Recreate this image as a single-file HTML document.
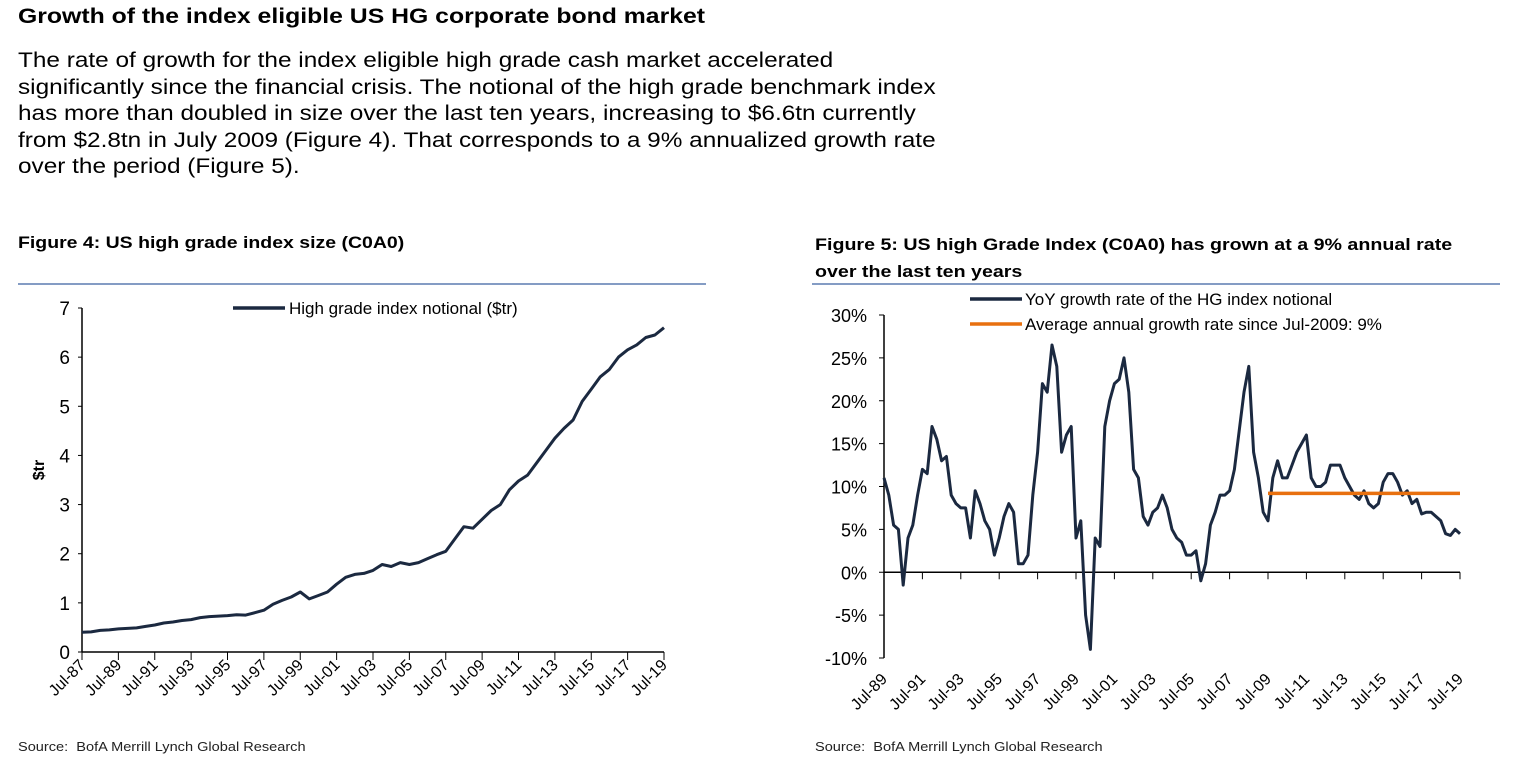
<!DOCTYPE html>
<html><head><meta charset="utf-8"><style>
body{margin:0;width:1523px;height:777px;background:#fff;font-family:"Liberation Sans",sans-serif;color:#000;overflow:hidden;position:relative}
.t{position:absolute;left:18px;white-space:nowrap;transform-origin:0 0}
</style></head><body>
<div class="t" style="top:5px;font-size:21px;font-weight:bold;transform:scaleX(1.18);">Growth of the index eligible US HG corporate bond market</div>
<div class="t" style="top:48px;font-size:21px;line-height:26.5px;transform:scaleX(1.16);">The rate of growth for the index eligible high grade cash market accelerated<br>significantly since the financial crisis. The notional of the high grade benchmark index<br>has more than doubled in size over the last ten years, increasing to $6.6tn currently<br>from $2.8tn in July 2009 (Figure 4). That corresponds to a 9% annualized growth rate<br>over the period (Figure 5).</div>
<div class="t" style="top:234px;font-size:16.5px;font-weight:bold;transform:scaleX(1.18);">Figure 4: US high grade index size (C0A0)</div>
<div class="t" style="left:815px;top:232px;font-size:16.5px;font-weight:bold;line-height:27px;transform:scaleX(1.19);">Figure 5: US high Grade Index (C0A0) has grown at a 9% annual rate<br>over the last ten years</div>
<div class="t" style="top:739px;font-size:13px;color:#222;transform:scaleX(1.12);">Source:&nbsp; BofA Merrill Lynch Global Research</div>
<div class="t" style="left:815px;top:739px;font-size:13px;color:#222;transform:scaleX(1.12);">Source:&nbsp; BofA Merrill Lynch Global Research</div>
<svg id="svg" width="1523" height="777" style="position:absolute;left:0;top:0"></svg>
<script>
// Figure 4 data (semiannual, Jul-87 .. Jul-19)
const f4Start = 1987.5;
const f4Values = [0.40,0.41,0.44,0.45,0.47,0.48,0.49,0.52,0.55,0.59,0.61,0.64,0.66,0.70,0.72,0.73,0.74,0.76,0.75,0.80,0.85,0.97,1.05,1.12,1.22,1.08,1.15,1.22,1.38,1.52,1.58,1.60,1.66,1.78,1.74,1.82,1.78,1.82,1.90,1.98,2.05,2.30,2.55,2.52,2.70,2.88,3.00,3.30,3.48,3.60,3.85,4.10,4.35,4.55,4.72,5.10,5.35,5.60,5.75,6.00,6.15,6.25,6.40,6.45,6.60];
const f4YTicks = [0,1,2,3,4,5,6,7];
const f4XTicks = ["Jul-87","Jul-89","Jul-91","Jul-93","Jul-95","Jul-97","Jul-99","Jul-01","Jul-03","Jul-05","Jul-07","Jul-09","Jul-11","Jul-13","Jul-15","Jul-17","Jul-19"];
// Figure 5 data (quarterly, Jul-89 .. Jul-19), percent
const f5Start = 1989.5;
const f5Values = [11,9,5.5,5,-1.5,4,5.5,9,12,11.5,17,15.5,13,13.5,9,8,7.5,7.5,4,9.5,8,6,5,2,4,6.5,8,7,1,1,2,9,14,22,21,26.5,24,14,16,17,4,6,-5,-9,4,3,17,20,22,22.5,25,21,12,11,6.5,5.5,7,7.5,9,7.5,5,4,3.5,2,2,2.5,-1,1,5.5,7,9,9,9.5,12,16.5,21,24,14,11,7,6,11,13,11,11,12.5,14,15,16,11,10,10,10.5,12.5,12.5,12.5,11,10,9,8.5,9.5,8,7.5,8,10.5,11.5,11.5,10.5,9,9.5,8,8.5,6.8,7,7,6.5,6,4.5,4.3,5,4.5];
const f5Avg = 9.2;
const f5AvgFrom = 2009.5, f5AvgTo = 2019.5;
const f5YTicks = [-10,-5,0,5,10,15,20,25,30];
const f5XTicks = ["Jul-89","Jul-91","Jul-93","Jul-95","Jul-97","Jul-99","Jul-01","Jul-03","Jul-05","Jul-07","Jul-09","Jul-11","Jul-13","Jul-15","Jul-17","Jul-19"];

const NS="http://www.w3.org/2000/svg", svg=document.getElementById('svg');
function mk(tag,a,txt){const e=document.createElementNS(NS,tag);for(const k in a)e.setAttribute(k,a[k]);if(txt!=null)e.textContent=txt;svg.appendChild(e);return e;}
const NAVY="#1b2940";

let r=mk('line',{x1:18,y1:284,x2:706,y2:284,stroke:"#5b7bb0","stroke-width":1.5});


r=mk('line',{x1:812,y1:284,x2:1500,y2:284,stroke:"#5b7bb0","stroke-width":1.5});



// ---- Figure 4 ----
const L={x0:82,x1:664,y0:652,y1:308,t0:1987.5,t1:2019.5,v0:0,v1:7};
const fx4=t=>L.x0+(t-L.t0)/(L.t1-L.t0)*(L.x1-L.x0);
const fy4=v=>L.y0-(v-L.v0)/(L.v1-L.v0)*(L.y0-L.y1);
let e=mk('line',{x1:L.x0,y1:fy4(7),x2:L.x0,y2:L.y0,stroke:"#000","stroke-width":1.5});


e=mk('line',{x1:L.x0,y1:L.y0,x2:L.x1,y2:L.y0,stroke:"#000","stroke-width":1.5});


f4YTicks.forEach(v=>{
  mk('line',{x1:L.x0-4,y1:fy4(v),x2:L.x0,y2:fy4(v),stroke:"#000"});
  const t=mk('text',{x:L.x0-12,y:fy4(v)+7,"text-anchor":"end","font-size":19},v);
  
  
});
f4XTicks.forEach((s,i)=>{
  const x=fx4(L.t0+2*i);
  mk('line',{x1:x,y1:L.y0,x2:x,y2:L.y0+8,stroke:"#000"});
  const t=mk('text',{x:x+4,y:L.y0+14,"text-anchor":"end","font-size":16,transform:`rotate(-45 ${x+4} ${L.y0+14})`},s);
  
  
});
e=mk('text',{x:44,y:470,"text-anchor":"middle","font-size":16,"font-weight":"bold",transform:"rotate(-90 44 470)"},"$tr");


e=mk('path',{d:f4Values.map((v,i)=>(i?'L':'M')+fx4(f4Start+i*0.5).toFixed(1)+','+fy4(v).toFixed(1)).join(''),fill:"none",stroke:NAVY,"stroke-width":3,"stroke-linejoin":"round"});


mk('line',{x1:233,y1:308,x2:285,y2:308,stroke:NAVY,"stroke-width":3.5});
e=mk('text',{x:289,y:314,"font-size":17},"High grade index notional ($tr)");



// ---- Figure 5 ----
const R={x0:884,x1:1460,y0:658,y1:315,t0:1989.5,t1:2019.5,v0:-10,v1:30};
const fx5=t=>R.x0+(t-R.t0)/(R.t1-R.t0)*(R.x1-R.x0);
const fy5=v=>R.y0-(v-R.v0)/(R.v1-R.v0)*(R.y0-R.y1);
e=mk('line',{x1:R.x0,y1:R.y1,x2:R.x0,y2:R.y0,stroke:"#000","stroke-width":1.5});


e=mk('line',{x1:R.x0,y1:fy5(0),x2:R.x1,y2:fy5(0),stroke:"#000","stroke-width":1.5});


f5YTicks.forEach(v=>{
  mk('line',{x1:R.x0-5,y1:fy5(v),x2:R.x0,y2:fy5(v),stroke:"#000"});
  const t=mk('text',{x:R.x0-17,y:fy5(v)+7,"text-anchor":"end","font-size":18},v+"%");
  
  
});
f5XTicks.forEach((s,i)=>{
  const x=fx5(R.t0+2*i);
  mk('line',{x1:x,y1:fy5(0),x2:x,y2:fy5(0)+7,stroke:"#000"});
  const t=mk('text',{x:x+4,y:R.y0+22,"text-anchor":"end","font-size":16,transform:`rotate(-45 ${x+4} ${R.y0+22})`},s);
  
  
});
e=mk('path',{d:f5Values.map((v,i)=>(i?'L':'M')+fx5(f5Start+i*0.25).toFixed(1)+','+fy5(v).toFixed(1)).join(''),fill:"none",stroke:NAVY,"stroke-width":3,"stroke-linejoin":"round"});


e=mk('line',{x1:fx5(f5AvgFrom),y1:fy5(f5Avg),x2:fx5(f5AvgTo),y2:fy5(f5Avg),stroke:"#e8700f","stroke-width":3.5});


mk('line',{x1:970,y1:299,x2:1022,y2:299,stroke:NAVY,"stroke-width":3.5});
e=mk('text',{x:1025,y:305,"font-size":17},"YoY growth rate of the HG index notional");


mk('line',{x1:970,y1:324,x2:1022,y2:324,stroke:"#e8700f","stroke-width":3.5});
e=mk('text',{x:1025,y:330,"font-size":17},"Average annual growth rate since Jul-2009: 9%");


</script>
</body></html>
